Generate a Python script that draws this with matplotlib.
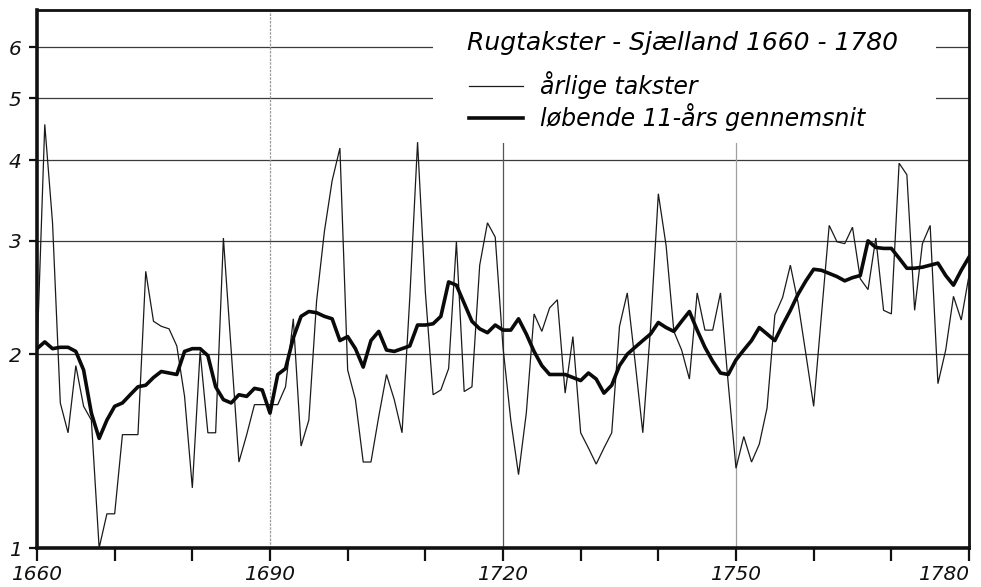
import matplotlib
matplotlib.use("Agg")
import matplotlib.pyplot as plt
from matplotlib.patches import Rectangle
from matplotlib.lines import Line2D
from matplotlib.ticker import NullLocator

# ---------------- data ----------------
years = list(range(1660, 1781))

annual = [
    2.00, 4.55, 3.20, 1.68, 1.51, 1.92, 1.66, 1.58, 1.00, 1.13,   # 1660-1669
    1.13, 1.50, 1.50, 1.50, 2.69, 2.25, 2.21, 2.19, 2.06, 1.72,   # 1670-1679
    1.24, 2.02, 1.51, 1.51, 3.03, 2.03, 1.36, 1.50, 1.67, 1.67,   # 1680-1689
    1.67, 1.67, 1.78, 2.27, 1.44, 1.58, 2.42, 3.10, 3.72, 4.18,   # 1690-1699
    1.89, 1.70, 1.36, 1.36, 1.60, 1.86, 1.70, 1.51, 2.45, 4.27,   # 1700-1709
    2.50, 1.73, 1.76, 1.90, 2.99, 1.75, 1.78, 2.75, 3.20, 3.04,   # 1710-1719
    2.05, 1.58, 1.30, 1.62, 2.31, 2.17, 2.36, 2.43, 1.74, 2.13,   # 1720-1729
    1.51, 1.43, 1.35, 1.43, 1.51, 2.21, 2.49, 1.95, 1.51, 2.20,   # 1730-1739
    3.55, 2.95, 2.17, 2.03, 1.83, 2.49, 2.18, 2.18, 2.49, 1.80,   # 1740-1749
    1.33, 1.49, 1.36, 1.45, 1.65, 2.30, 2.45, 2.75, 2.40, 2.00,   # 1750-1759
    1.66, 2.30, 3.17, 2.99, 2.97, 3.15, 2.62, 2.52, 3.03, 2.34,   # 1760-1769
    2.31, 3.96, 3.80, 2.34, 2.97, 3.17, 1.80, 2.03, 2.46, 2.26,   # 1770-1779
    2.65,                                                         # 1780
]

average = [
    2.04, 2.09, 2.04, 2.05, 2.05, 2.02, 1.89, 1.62, 1.48, 1.58,   # 1660-1669
    1.66, 1.68, 1.73, 1.78, 1.79, 1.84, 1.88, 1.87, 1.86, 2.02,   # 1670-1679
    2.04, 2.04, 1.99, 1.78, 1.70, 1.68, 1.73, 1.72, 1.77, 1.76,   # 1680-1689
    1.62, 1.86, 1.90, 2.12, 2.29, 2.33, 2.32, 2.29, 2.27, 2.10,   # 1690-1699
    2.13, 2.04, 1.91, 2.10, 2.17, 2.03, 2.02, 2.04, 2.06, 2.22,   # 1700-1709
    2.22, 2.23, 2.29, 2.59, 2.56, 2.40, 2.25, 2.19, 2.16, 2.22,   # 1710-1719
    2.18, 2.18, 2.27, 2.15, 2.02, 1.92, 1.86, 1.86, 1.86, 1.84,   # 1720-1729
    1.82, 1.87, 1.83, 1.74, 1.79, 1.92, 2.00, 2.05, 2.10, 2.15,   # 1730-1739
    2.24, 2.20, 2.17, 2.25, 2.33, 2.18, 2.05, 1.95, 1.87, 1.86,   # 1740-1749
    1.96, 2.03, 2.10, 2.20, 2.15, 2.10, 2.22, 2.34, 2.48, 2.60,   # 1750-1759
    2.71, 2.70, 2.67, 2.64, 2.60, 2.63, 2.65, 3.00, 2.93, 2.92,   # 1760-1769
    2.92, 2.82, 2.72, 2.72, 2.73, 2.75, 2.77, 2.65, 2.56, 2.70,   # 1770-1779
    2.83,                                                         # 1780
]

y_ticks = [1, 2, 3, 4, 5, 6]
x_ticks = list(range(1660, 1781, 10))
x_label_years = [1660, 1690, 1720, 1750, 1780]
title_text = "Rugtakster - Sjælland 1660 - 1780"
label_annual = "årlige takster"
label_average = "løbende 11-års gennemsnit"

# ---------------- figure ----------------
plt.rcParams["font.family"] = ["DejaVu Sans"]
fig = plt.figure(figsize=(9.81, 5.87), dpi=100)
W, H = 981, 587
ax = fig.add_axes([37 / W, (H - 548) / H, (969 - 37) / W, (548 - 10) / H])
ax.set_yscale("log")
ax.set_xlim(1660, 1780)
ax.set_ylim(1, 6.85)

# grid lines
for v in [2, 3, 4, 5, 6]:
    ax.axhline(v, color="#3a3a3a", lw=0.9, zorder=1)
ax.axvline(1690, color="#9a9a9a", lw=0.9, ls=(0, (2, 1)), zorder=1)
ax.axvline(1720, color="#555555", lw=0.9, zorder=1)
ax.axvline(1750, color="#a0a0a0", lw=0.9, zorder=1)

# white legend area covering the grid
ax.add_patch(Rectangle((1711.0, 4.26), 1775.8 - 1711.0, 6.85 - 4.26,
                       facecolor="white", edgecolor="none", zorder=1.5))

# data
ax.plot(years, annual, color="#1a1a1a", lw=0.9, zorder=3,
        solid_joinstyle="miter")
ax.plot(years, average, color="#0a0a0a", lw=2.6, zorder=4,
        solid_joinstyle="round")

# axes styling
for s in ax.spines.values():
    s.set_linewidth(2.0)
    s.set_color("#111111")
ax.spines["left"].set_linewidth(2.6)
ax.spines["bottom"].set_linewidth(2.6)

ax.set_yticks(y_ticks)
ax.set_yticklabels([str(v) for v in y_ticks])
ax.yaxis.set_minor_locator(NullLocator())
ax.set_xticks(x_ticks)
ax.set_xticklabels([str(y) if y in x_label_years else "" for y in x_ticks])
ax.tick_params(axis="x", direction="out", length=9, width=1.6, pad=3,
               labelsize=14.5, colors="#111111")
ax.tick_params(axis="y", direction="out", length=6, width=1.6, pad=5,
               labelsize=14.5, colors="#111111")
for lbl in ax.get_xticklabels() + ax.get_yticklabels():
    lbl.set_fontstyle("italic")
xl = ax.get_xticklabels()
xl[-1].set_horizontalalignment("right")

# title / legend
ax.text((467 - 37) / 932, (548 - 43) / 538, title_text, transform=ax.transAxes,
        ha="left", va="center", fontsize=18, fontstyle="italic", zorder=6)

handles = [Line2D([], [], color="#1a1a1a", lw=0.9),
           Line2D([], [], color="#0a0a0a", lw=2.6)]
leg = ax.legend(handles, [label_annual, label_average],
                loc="upper left", bbox_to_anchor=((469 - 37) / 932, (548 - 71) / 538),
                frameon=False, borderpad=0, borderaxespad=0,
                handlelength=2.3, handletextpad=0.72, labelspacing=0.18,
                prop={"size": 17, "style": "italic"})
leg.set_zorder(6)

fig.savefig("out.png", dpi=100, facecolor="white")
